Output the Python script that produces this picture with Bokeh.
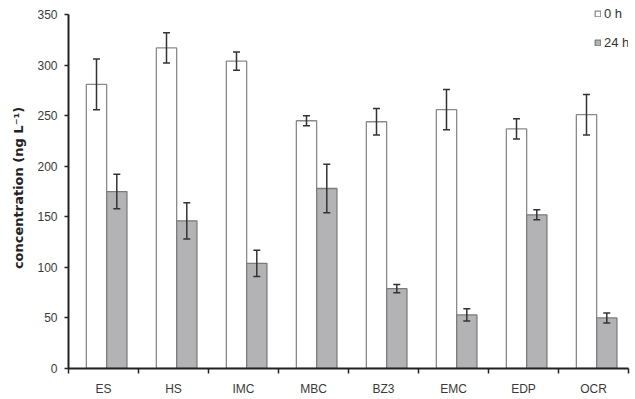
import numpy as np
from bokeh.plotting import figure
from bokeh.models import (ColumnDataSource, Whisker, TeeHead, FixedTicker, Range1d,
                          Legend, LegendItem)
from bokeh.embed import file_html
from bokeh.resources import INLINE

categories = ["ES", "HS", "IMC", "MBC", "BZ3", "EMC", "EDP", "OCR"]
conc_0h = [281, 317, 304, 245, 244, 256, 237, 251]
err_0h = [25, 15, 9, 5, 13, 20, 10, 20]
conc_24h = [175, 146, 104, 178, 79, 53, 152, 50]
err_24h = [17, 18, 13, 24, 4, 6, 5, 5]
y_ticks = [0, 50, 100, 150, 200, 250, 300, 350]
series_labels = ["0 h", "24 h"]

idx = np.arange(len(categories))
x0 = idx + 0.40
x24 = idx + 0.69

src0 = ColumnDataSource(dict(x=x0, top=conc_0h,
                             upper=np.array(conc_0h) + np.array(err_0h),
                             lower=np.array(conc_0h) - np.array(err_0h)))
src24 = ColumnDataSource(dict(x=x24, top=conc_24h,
                              upper=np.array(conc_24h) + np.array(err_24h),
                              lower=np.array(conc_24h) - np.array(err_24h)))

# a little headroom above 350 so the legend is not clipped; axis line stops at 350
p = figure(width=635, height=399, output_backend="svg", toolbar_location=None,
           x_range=Range1d(0, len(categories)), y_range=Range1d(0, 357),
           min_border_left=68, min_border_right=7, min_border_top=7, min_border_bottom=31)
p.outline_line_color = None
p.xgrid.visible = False
p.ygrid.visible = False

r0 = p.vbar(x="x", top="top", width=0.29, source=src0, fill_color="white",
            line_color="#8a8a8a", line_width=1.3)
r24 = p.vbar(x="x", top="top", width=0.29, source=src24, fill_color="#b3b3b6",
             line_color="#7c7c7c", line_width=1.3)

for s in (src0, src24):
    w = Whisker(base="x", upper="upper", lower="lower", source=s,
                line_color="#333333", line_width=1.5,
                upper_head=TeeHead(size=7, line_color="#333333", line_width=1.5),
                lower_head=TeeHead(size=7, line_color="#333333", line_width=1.5))
    w.level = "annotation"
    p.add_layout(w)

xa = p.xaxis[0]
xa.ticker = FixedTicker(ticks=list(idx + 0.5), minor_ticks=list(range(len(categories) + 1)))
xa.major_label_overrides = {float(i + 0.5): c for i, c in enumerate(categories)}
xa.major_tick_line_color = None
xa.minor_tick_line_color = "#222222"
xa.minor_tick_line_width = 1.5
xa.minor_tick_out = 5
xa.minor_tick_in = 0
xa.major_tick_out = 5
xa.major_tick_in = 0
xa.major_label_standoff = 8
xa.axis_line_color = "#222222"
xa.axis_line_width = 2
xa.major_label_text_font = "Liberation Sans"
xa.major_label_text_font_size = "12px"
xa.major_label_text_color = "#3a3a3a"

ya = p.yaxis[0]
ya.bounds = (0, 350)
ya.ticker = FixedTicker(ticks=y_ticks, minor_ticks=[])
ya.major_tick_out = 4
ya.major_tick_in = 0
ya.major_tick_line_color = "#222222"
ya.major_tick_line_width = 1.5
ya.axis_line_color = "#222222"
ya.axis_line_width = 2
ya.major_label_standoff = 7
ya.major_label_text_font = "Liberation Sans"
ya.major_label_text_font_size = "12px"
ya.major_label_text_color = "#3a3a3a"
ya.axis_label = "concentration (ng L\u207b\u00b9)"
ya.axis_label_text_font = "DejaVu Sans"
ya.axis_label_text_font_style = "bold"
ya.axis_label_text_font_size = "13px"
ya.axis_label_text_color = "#222222"
ya.axis_label_standoff = 8

legend = Legend(items=[LegendItem(label=series_labels[0], renderers=[r0]),
                       LegendItem(label=series_labels[1], renderers=[r24])],
                location=(526, 318), glyph_width=7, glyph_height=7, label_height=14,
                spacing=14, padding=0, margin=0, label_standoff=3,
                border_line_color=None, background_fill_alpha=0,
                label_text_font="Liberation Sans", label_text_font_size="13px",
                label_text_color="#333333")
p.add_layout(legend)

open("out.html", "w").write(file_html(p, INLINE))
